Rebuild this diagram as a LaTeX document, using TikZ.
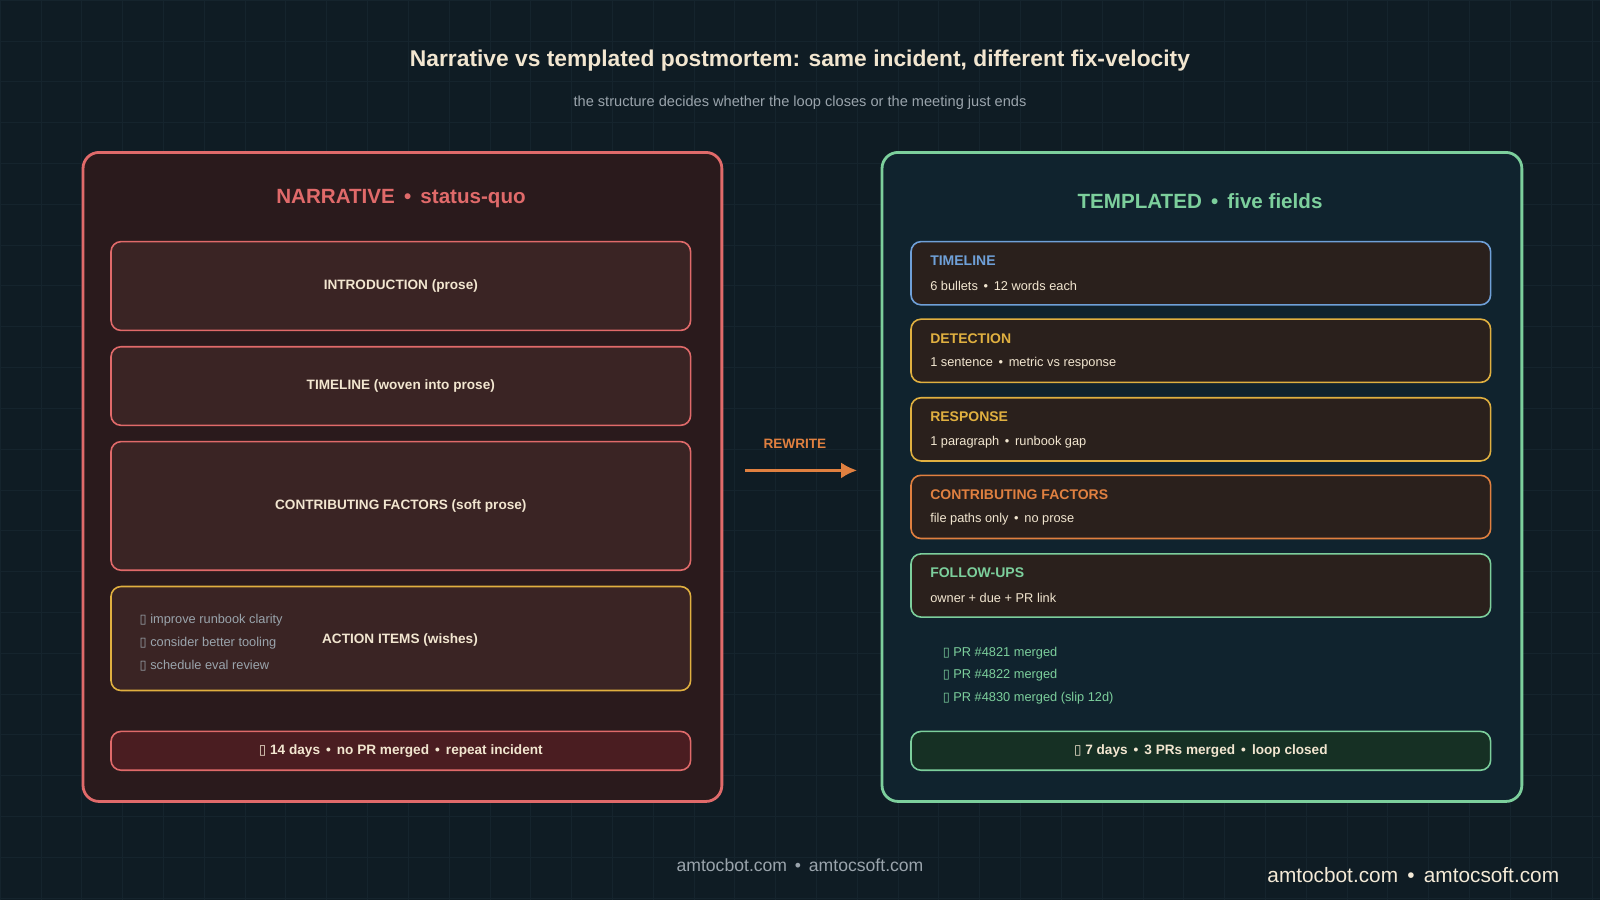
\documentclass[tikz,border=0pt]{standalone}
\usepackage{fontspec}
\setmainfont{Liberation Sans}
\newfontfamily\symfont{DejaVu Sans}
\usetikzlibrary{positioning,arrows.meta}
\definecolor{bgc}{HTML}{0F1C24}
\definecolor{gridc}{HTML}{15242D}
\definecolor{redc}{HTML}{E06A6A}
\definecolor{redfill}{HTML}{2A1A1C}
\definecolor{redbox}{HTML}{3A2424}
\definecolor{redfoot}{HTML}{4A1D21}
\definecolor{greenc}{HTML}{7CCF9C}
\definecolor{greenfill}{HTML}{10232E}
\definecolor{greenfoot}{HTML}{163024}
\definecolor{fieldfill}{HTML}{2A201C}
\definecolor{bluec}{HTML}{6FA0D8}
\definecolor{yellowc}{HTML}{E0B040}
\definecolor{orangec}{HTML}{E08040}
\definecolor{textc}{HTML}{F2E6D0}
\definecolor{grayc}{HTML}{9AA4AC}
\newcommand{\tofu}{{\symfont ▯}}
\tikzset{
  panel/.style={draw=#1, line width=1.4pt, rounded corners=8pt, anchor=north west},
  lbox/.style={draw=redc, line width=0.8pt, fill=redbox, rounded corners=5pt, minimum width=289.8pt, anchor=north west, font=\bfseries\fontsize{6.8}{8}\selectfont, text=textc},
  field/.style={draw=#1, line width=0.8pt, fill=fieldfill, rounded corners=5pt, minimum width=289.8pt, minimum height=31.6pt, anchor=north west},
  ftitle/.style={anchor=west, font=\bfseries\fontsize{7}{8}\selectfont, text=#1},
  fbody/.style={anchor=west, font=\fontsize{6.4}{8}\selectfont, text=textc},
  small/.style={anchor=west, font=\fontsize{6.4}{8}\selectfont, text=#1},
}
\begin{document}
\begin{tikzpicture}[x=0.5102pt,y=-0.5102pt]
\fill[bgc] (0,0) rectangle (1568,882);
\useasboundingbox (0,0) rectangle (1568,882);
\foreach \i in {0,40,...,1560} \draw[gridc,line width=0.3pt] (\i,0) -- (\i,882);
\foreach \j in {0,40,...,880} \draw[gridc,line width=0.3pt] (0,\j) -- (1568,\j);

% title
\node (title) at (784,59) {\bfseries\fontsize{11.4}{13}\selectfont\color{textc}Narrative vs templated postmortem: same incident, different fix-velocity};
\node (subtitle) at (784,101) {\fontsize{7.3}{9}\selectfont\color{grayc}the structure decides whether the loop closes or the meeting just ends};

% narrative panel
\node[panel=redc, fill=redfill, minimum width=319.4pt, minimum height=324.5pt] (narr) at (80,148) {};
\node (narrhead) at (393,195) {\bfseries\fontsize{10.3}{12}\selectfont\color{redc}NARRATIVE \,\textbullet\, status-quo};
\node[lbox, minimum height=44.4pt] (intro) at (108,236) {INTRODUCTION (prose)};
\node[lbox, minimum height=39.3pt] (ltime) at (108,339) {TIMELINE (woven into prose)};
\node[lbox, minimum height=64.3pt] (contrib) at (108,432) {CONTRIBUTING FACTORS (soft prose)};
\node[lbox, draw=yellowc, minimum height=52pt] (action) at (108,574) {};
\node[font=\bfseries\fontsize{6.8}{8}\selectfont, text=textc] (actlabel) at (392,627) {ACTION ITEMS (wishes)};
\node[small=grayc] (wish1) at (130,608) {\tofu\ improve runbook clarity};
\node[small=grayc] (wish2) at (130,630) {\tofu\ consider better tooling};
\node[small=grayc] (wish3) at (130,652) {\tofu\ schedule eval review};
\node[lbox, fill=redfoot, minimum height=19.4pt] (nfoot) at (108,716) {\tofu\ 14 days \,\textbullet\, no PR merged \,\textbullet\, repeat incident};

% arrow
\coordinate (arrA) at (730,461);
\coordinate (arrB) at (840,461);
\draw[orangec, line width=1.5pt, -{Latex[length=8pt,width=8pt]}] (arrA) -- (arrB);
\node[font=\bfseries\fontsize{6.8}{8}\selectfont, text=orangec] (rewrite) at (779,435) {REWRITE};

% templated panel
\node[panel=greenc, fill=greenfill, minimum width=319.9pt, minimum height=324.5pt] (tmpl) at (863,148) {};
\node (tmplhead) at (1176,197) {\bfseries\fontsize{10.3}{12}\selectfont\color{greenc}TEMPLATED \,\textbullet\, five fields};
\foreach \nm/\y/\c/\t/\b in {ftime/236/bluec/TIMELINE/6 bullets \,\textbullet\, 12 words each,
  fdet/312/yellowc/DETECTION/1 sentence \,\textbullet\, metric vs response,
  fresp/389/yellowc/RESPONSE/1 paragraph \,\textbullet\, runbook gap,
  fcont/465/orangec/CONTRIBUTING FACTORS/file paths only \,\textbullet\, no prose,
  ffol/542/greenc/FOLLOW-UPS/owner + due + PR link}{
  \node[field=\c] (\nm) at (892,\y) {};
  \node[ftitle=\c] at ([xshift=6.5pt,yshift=-10pt]\nm.north west) {\t};
  \node[fbody] at ([xshift=6.5pt,yshift=10pt]\nm.south west) {\b};
}
\node[small=greenc] (pr1) at (917,640) {\tofu\ PR \#4821 merged};
\node[small=greenc] (pr2) at (917,662) {\tofu\ PR \#4822 merged};
\node[small=greenc] (pr3) at (917,684) {\tofu\ PR \#4830 merged (slip 12d)};
\node[lbox, draw=greenc, fill=greenfoot, minimum height=19.4pt] (tfoot) at (892,716) {\tofu\ 7 days \,\textbullet\, 3 PRs merged \,\textbullet\, loop closed};

% footer
\node[font=\fontsize{8.8}{10}\selectfont, text=grayc] (foot) at (784,848) {amtocbot.com \,\textbullet\, amtocsoft.com};
\node[font=\fontsize{10.4}{12}\selectfont, text=textc!85!white] (brand) at (1385,858) {amtocbot.com \,\textbullet\, amtocsoft.com};
\end{tikzpicture}
\end{document}
